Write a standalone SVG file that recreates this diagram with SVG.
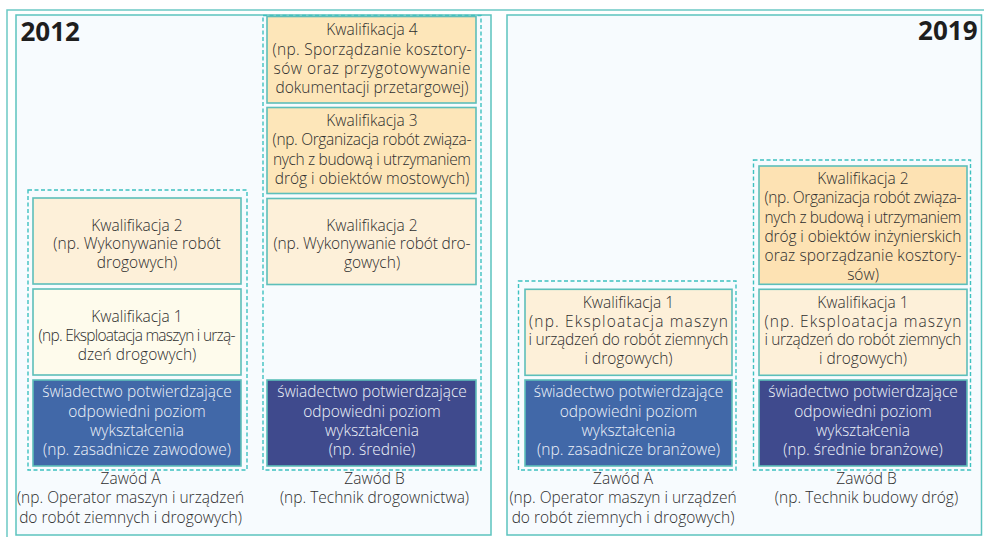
<svg xmlns="http://www.w3.org/2000/svg" width="984" height="537" viewBox="0 0 984 537">
  <style>
    text { font-family: "Open Sans", "Noto Sans", "DejaVu Sans", sans-serif; font-size: 15.5px; font-weight: 300; fill: #2e2e2e; text-anchor: middle; }
    .year { font-size: 26px; font-weight: 700; fill: #1e1e1e; }
    .frame { fill: none; stroke: #6cc9c5; stroke-width: 1.5; }
    .panel { fill: #f7fbfe; stroke: #5cc3be; stroke-width: 1.5; }
    .group { fill: none; stroke: #3ec1c0; stroke-width: 1.4; stroke-dasharray: 4 2.5; }
    .box { stroke: #5dbfba; stroke-width: 1.6; }
    .q-dark { fill: #fde6b9; }
    .q-deep { fill: #fde2b3; }
    .q-mid { fill: #fdf0d9; }
    .q-light { fill: #fefbec; }
    .cert-a { fill: #4168a8; }
    .cert-b { fill: #3f4a8d; }
    .cert text { fill: #eef2f9; }
  </style>

  <!-- outer frame and the two period panels -->
  <path class="frame" d="M7,537 V10 H984"/>
  <g id="panel-2012">
    <rect class="panel" x="16" y="15" width="475" height="520"/>
    <text class="year" x="20.5" y="41" style="text-anchor:start">2012</text>
  </g>
  <g id="panel-2019">
    <rect class="panel" x="507" y="15" width="474.5" height="520"/>
    <text class="year" x="977.5" y="40" style="text-anchor:end">2019</text>
  </g>

  <!-- dashed groupings per occupation -->
  <g id="groups">
    <rect class="group" x="28" y="190" width="219" height="280"/>
    <rect class="group" x="263" y="15.5" width="218" height="454.5"/>
    <rect class="group" x="518.5" y="281" width="217.5" height="189"/>
    <rect class="group" x="753.5" y="160" width="217" height="310"/>
  </g>

  <!-- 2012, occupation A -->
  <g id="a2012-kw2">
    <rect class="box q-mid" x="33" y="198" width="208" height="86"/>
    <text x="137" y="230.7">Kwalifikacja 2</text>
    <text x="137" y="249.3">(np. Wykonywanie robót</text>
    <text x="137" y="268">drogowych)</text>
  </g>
  <g id="a2012-kw1">
    <rect class="box q-light" x="33" y="289" width="208" height="86"/>
    <text x="137" y="321.7">Kwalifikacja 1</text>
    <text x="137" y="340.5" textLength="197">(np. Eksploatacja maszyn i urzą-</text>
    <text x="137" y="359.5">dzeń drogowych)</text>
  </g>
  <g id="a2012-cert" class="cert">
    <rect class="box cert-a" x="33" y="380" width="208" height="86"/>
    <text x="137" y="397">świadectwo potwierdzające</text>
    <text x="137" y="416.5">odpowiedni poziom</text>
    <text x="137" y="435.5">wykształcenia</text>
    <text x="137" y="455">(np. zasadnicze zawodowe)</text>
  </g>
  <g id="a2012-label">
    <text x="130.5" y="484">Zawód A</text>
    <text x="130.5" y="503.3">(np. Operator maszyn i urządzeń</text>
    <text x="130.5" y="522.7">do robót ziemnych i drogowych)</text>
  </g>

  <!-- 2012, occupation B -->
  <g id="b2012-kw4">
    <rect class="box q-dark" x="267" y="16.5" width="209" height="86.5"/>
    <text x="372" y="35">Kwalifikacja 4</text>
    <text x="372" y="54.5" textLength="199">(np. Sporządzanie kosztory-</text>
    <text x="372" y="74" textLength="197">sów oraz przygotowywanie</text>
    <text x="372" y="93">dokumentacji przetargowej)</text>
  </g>
  <g id="b2012-kw3">
    <rect class="box q-dark" x="267" y="107.5" width="209" height="86"/>
    <text x="372" y="126">Kwalifikacja 3</text>
    <text x="372" y="145.3" textLength="199">(np. Organizacja robót związa-</text>
    <text x="372" y="164.6" textLength="198">nych z budową i utrzymaniem</text>
    <text x="372" y="183.6">dróg i obiektów mostowych)</text>
  </g>
  <g id="b2012-kw2">
    <rect class="box q-mid" x="267" y="198.5" width="209" height="86"/>
    <text x="372" y="230.7">Kwalifikacja 2</text>
    <text x="372" y="249.3" textLength="197">(np. Wykonywanie robót dro-</text>
    <text x="372" y="268">gowych)</text>
  </g>
  <g id="b2012-cert" class="cert">
    <rect class="box cert-b" x="267" y="380" width="209" height="86"/>
    <text x="372" y="397">świadectwo potwierdzające</text>
    <text x="372" y="416.5">odpowiedni poziom</text>
    <text x="372" y="435.5">wykształcenia</text>
    <text x="372" y="455">(np. średnie)</text>
  </g>
  <g id="b2012-label">
    <text x="374.5" y="484">Zawód B</text>
    <text x="374.5" y="503.3">(np. Technik drogownictwa)</text>
  </g>

  <!-- 2019, occupation A -->
  <g id="a2019-kw1">
    <rect class="box q-mid" x="525" y="289.3" width="207" height="86"/>
    <text x="628.5" y="308">Kwalifikacja 1</text>
    <text x="628.5" y="326.7" textLength="199">(np. Eksploatacja maszyn</text>
    <text x="628.5" y="345.3" textLength="200">i urządzeń do robót ziemnych</text>
    <text x="628.5" y="363.5">i drogowych)</text>
  </g>
  <g id="a2019-cert" class="cert">
    <rect class="box cert-a" x="525" y="380" width="207" height="86"/>
    <text x="628.5" y="397">świadectwo potwierdzające</text>
    <text x="628.5" y="416.5">odpowiedni poziom</text>
    <text x="628.5" y="435.5">wykształcenia</text>
    <text x="628.5" y="455">(np. zasadnicze branżowe)</text>
  </g>
  <g id="a2019-label">
    <text x="623" y="484">Zawód A</text>
    <text x="623" y="503.3">(np. Operator maszyn i urządzeń</text>
    <text x="623" y="522.7">do robót ziemnych i drogowych)</text>
  </g>

  <!-- 2019, occupation B -->
  <g id="b2019-kw2">
    <rect class="box q-deep" x="759" y="166" width="208" height="118.3"/>
    <text x="863" y="184.3">Kwalifikacja 2</text>
    <text x="863" y="203.3" textLength="197">(np. Organizacja robót związa-</text>
    <text x="863" y="222.6" textLength="197">nych z budową i utrzymaniem</text>
    <text x="863" y="241.8" textLength="197">dróg i obiektów inżynierskich</text>
    <text x="863" y="261" textLength="197">oraz sporządzanie kosztory-</text>
    <text x="863" y="280">sów)</text>
  </g>
  <g id="b2019-kw1">
    <rect class="box q-mid" x="759" y="289.3" width="208" height="86"/>
    <text x="863" y="307.8">Kwalifikacja 1</text>
    <text x="863" y="326.5" textLength="197">(np. Eksploatacja maszyn</text>
    <text x="863" y="345.2" textLength="197">i urządzeń do robót ziemnych</text>
    <text x="863" y="363.5">i drogowych)</text>
  </g>
  <g id="b2019-cert" class="cert">
    <rect class="box cert-b" x="759" y="380" width="208" height="86"/>
    <text x="863" y="397">świadectwo potwierdzające</text>
    <text x="863" y="416.5">odpowiedni poziom</text>
    <text x="863" y="435.5">wykształcenia</text>
    <text x="863" y="455">(np. średnie branżowe)</text>
  </g>
  <g id="b2019-label">
    <text x="866.5" y="484">Zawód B</text>
    <text x="866.5" y="503.3">(np. Technik budowy dróg)</text>
  </g>
</svg>
